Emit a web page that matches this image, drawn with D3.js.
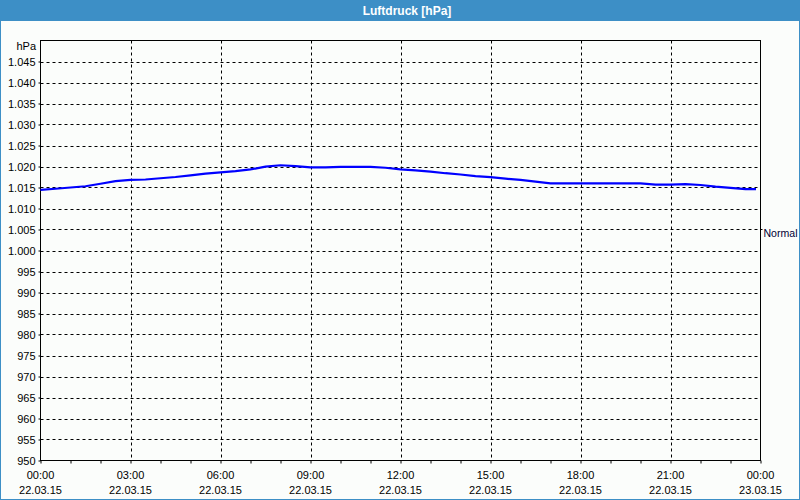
<!DOCTYPE html>
<html>
<head>
<meta charset="utf-8">
<script src="https://cdn.jsdelivr.net/npm/d3@7"></script>
<style>
  body { margin: 0; background: #fff; }
  svg { display: block; font-family: "Liberation Sans", Arial, sans-serif; }
</style>
</head>
<body>
<div id="chart"></div>
<script>
// half-hourly readings, 22.03.15 00:00 .. 23:30 (hPa)
var hours = [
  0, 0.5, 1, 1.5, 2, 2.5, 3, 3.5, 4, 4.5, 5, 5.5, 6, 6.5, 7, 7.5,
  8, 8.5, 9, 9.5, 10, 10.5, 11, 11.5, 12, 12.5, 13, 13.5, 14, 14.5, 15, 15.5,
  16, 16.5, 17, 17.5, 18, 18.5, 19, 19.5, 20, 20.5, 21, 21.5, 22, 22.5, 23, 23.5, 23.85
]
var pressure = [
  1014.45, 1014.7, 1015.0, 1015.3, 1015.9, 1016.5, 1016.8, 1016.9, 1017.2, 1017.5, 1017.9, 1018.3, 1018.6, 1018.9, 1019.3, 1019.95,
  1020.3, 1020.1, 1019.8, 1019.8, 1019.9, 1019.9, 1019.9, 1019.7, 1019.3, 1019.1, 1018.8, 1018.4, 1018.1, 1017.7, 1017.45, 1017.1,
  1016.8, 1016.4, 1016.0, 1016.0, 1016.0, 1016.0, 1016.0, 1016.0, 1016.0, 1015.7, 1015.7, 1015.8, 1015.6, 1015.2, 1014.9, 1014.6, 1014.6
]
var yTicks = [950, 955, 960, 965, 970, 975, 980, 985, 990, 995, 1000, 1005, 1010,
  1015, 1020, 1025, 1030, 1035, 1040, 1045]
var xTicks = [0, 3, 6, 9, 12, 15, 18, 21, 24]
var timeLabels = ['00:00', '03:00', '06:00', '09:00', '12:00', '15:00', '18:00', '21:00', '00:00']
var dateLabels = ['22.03.15', '22.03.15', '22.03.15', '22.03.15', '22.03.15', '22.03.15', '22.03.15', '22.03.15', '23.03.15']
var normalValue = 1005
var title = 'Luftdruck [hPa]'

var width = 800
var height = 500
var plotLeft = 40.5
var plotRight = 760.5
var plotTop = 40.5
var plotBottom = 460.5

var de = d3.formatLocale({ decimal: ',', thousands: '.', grouping: [3], currency: ['', ' €'] })
var fmt = de.format(',')

var x = d3.scaleLinear().domain([0, 24]).range([plotLeft, plotRight])
var y = d3.scaleLinear().domain([950, 1050]).range([plotBottom, plotTop])

var svg = d3.select('#chart').append('svg')
  .attr('width', width)
  .attr('height', height)

svg.append('rect')
  .attr('x', 0.5).attr('y', 0.5)
  .attr('width', width - 1).attr('height', height - 1)
  .attr('fill', '#fbfdfb')
  .attr('stroke', '#3d8fc6')

svg.append('rect')
  .attr('x', 0).attr('y', 0)
  .attr('width', width).attr('height', 21)
  .attr('fill', '#3d8fc6')

svg.append('text')
  .attr('x', 407).attr('y', 14.5)
  .attr('text-anchor', 'middle')
  .attr('fill', '#fff')
  .attr('font-weight', 'bold')
  .attr('font-size', 12)
  .text(title)

// grid
svg.append('g')
  .selectAll('line')
  .data(yTicks.filter(function (d) { return d > 950 }))
  .enter().append('line')
    .attr('x1', plotLeft).attr('x2', plotRight)
    .attr('y1', function (d) { return Math.round(y(d)) + 0.5 })
    .attr('y2', function (d) { return Math.round(y(d)) + 0.5 })
    .attr('stroke', '#000')
    .attr('stroke-dasharray', '3,3')

svg.append('g')
  .selectAll('line')
  .data(xTicks.slice(1, -1))
  .enter().append('line')
    .attr('y1', plotTop).attr('y2', plotBottom)
    .attr('x1', function (d) { return Math.round(x(d)) + 0.5 })
    .attr('x2', function (d) { return Math.round(x(d)) + 0.5 })
    .attr('stroke', '#000')
    .attr('stroke-dasharray', '3,3')

// axes
var yAxis = d3.axisLeft(y)
  .tickValues(yTicks)
  .tickSize(2)
  .tickPadding(3)
  .tickFormat(fmt)

svg.append('g')
  .attr('transform', 'translate(' + plotLeft + ',0)')
  .call(yAxis)
  .call(function (g) {
    g.select('.domain').remove()
    g.selectAll('text').attr('font-size', 11).attr('fill', '#000')
      .attr('font-family', '"Liberation Sans", Arial, sans-serif')
  })

svg.append('text')
  .attr('x', 36).attr('y', 49.5)
  .attr('text-anchor', 'end')
  .attr('font-size', 11)
  .text('hPa')

var xAxis = d3.axisBottom(x)
  .tickValues(d3.range(0, 25))
  .tickSize(3)
  .tickFormat('')

svg.append('g')
  .attr('transform', 'translate(0,' + plotBottom + ')')
  .call(xAxis)
  .call(function (g) { g.select('.domain').remove() })

var xl = svg.append('g')
  .selectAll('g')
  .data(xTicks)
  .enter().append('g')
    .attr('transform', function (d) { return 'translate(' + x(d) + ',0)' })
    .attr('font-size', 11)
    .attr('text-anchor', 'middle')

xl.append('text')
  .attr('y', 479)
  .text(function (d, i) { return timeLabels[i] })

xl.append('text')
  .attr('y', 494)
  .text(function (d, i) { return dateLabels[i] })

// right marker
svg.append('line')
  .attr('x1', plotRight).attr('x2', plotRight + 2)
  .attr('y1', Math.round(y(normalValue)) + 0.5)
  .attr('y2', Math.round(y(normalValue)) + 0.5)
  .attr('stroke', '#000')

svg.append('text')
  .attr('x', plotRight + 3)
  .attr('y', y(normalValue) + 7)
  .attr('font-size', 10.5)
  .attr('textLength', 34)
  .attr('lengthAdjust', 'spacingAndGlyphs')
  .attr('fill', '#000033')
  .text('Normal')

// frame
svg.append('rect')
  .attr('x', plotLeft).attr('y', plotTop)
  .attr('width', plotRight - plotLeft).attr('height', plotBottom - plotTop)
  .attr('fill', 'none')
  .attr('stroke', '#000')

// series
var line = d3.line()
  .x(function (d, i) { return x(hours[i]) })
  .y(function (d) { return y(d) })

svg.append('path')
  .datum(pressure)
  .attr('d', line)
  .attr('fill', 'none')
  .attr('stroke', '#0000ff')
  .attr('stroke-width', 2.2)
</script>
</body>
</html>
